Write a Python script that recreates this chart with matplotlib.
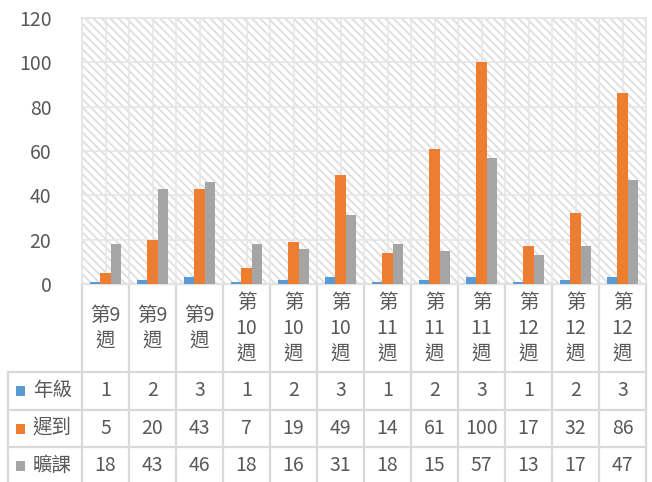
import numpy as np
import matplotlib.pyplot as plt
from matplotlib.patches import Rectangle
from matplotlib.transforms import blended_transform_factory

plt.rcParams['font.family'] = ['Noto Sans CJK TC', 'DejaVu Sans']
plt.rcParams['hatch.linewidth'] = 1.3

weeks = ['第9\n週', '第9\n週', '第9\n週',
         '第\n10\n週', '第\n10\n週', '第\n10\n週',
         '第\n11\n週', '第\n11\n週', '第\n11\n週',
         '第\n12\n週', '第\n12\n週', '第\n12\n週']
series_names = ['年級', '遲到', '曠課']
grade = [1, 2, 3, 1, 2, 3, 1, 2, 3, 1, 2, 3]
late = [5, 20, 43, 7, 19, 49, 14, 61, 100, 17, 32, 86]
absent = [18, 43, 46, 18, 16, 31, 18, 15, 57, 13, 17, 47]
colors = ['#5B9BD5', '#ED7D31', '#A5A5A5']

txt = '#595959'
line_c = '#d9d9d9'
fs = 14

fig = plt.figure(figsize=(6.52, 4.82), dpi=100)
ax = fig.add_axes([82/652, 1-284/482, 564/652, 266/482])

n = len(weeks)
x = np.arange(n)
w = 0.22
values = [grade, late, absent]

# patterned background
ax.add_patch(Rectangle((0, 0), 1, 1, transform=ax.transAxes, facecolor='white',
                       edgecolor='#dedede', hatch='\\\\\\\\', linewidth=0, zorder=0))
for yv in range(20, 121, 20):
    ax.axhline(yv, color='#e6e6e6', lw=1.2, zorder=1)
for xv in np.arange(-0.5, n, 0.5):
    ax.axvline(xv, color='#e6e6e6', lw=1.2, zorder=1)

for i, vals in enumerate(values):
    ax.bar(x + (i - 1) * w, vals, width=w, color=colors[i], zorder=3)

ax.set_xlim(-0.5, n - 0.5)
ax.set_ylim(0, 120)
ax.set_yticks(range(0, 121, 20))
ax.tick_params(axis='y', length=0, labelsize=fs, labelcolor=txt, pad=22)
ax.set_xticks([])
for s in ax.spines.values():
    s.set_color('#e4e4e4')
    s.set_linewidth(1.2)

# data table below the plot
tr = blended_transform_factory(ax.transData, ax.transAxes)
px = 1 / 266
rows = [0, -88*px, -126*px, -163*px, -200*px]
left = -0.5 - 74/47
kw = dict(color=line_c, lw=1.6, transform=tr, clip_on=False)

ax.plot([-0.5, n - 0.5], [rows[0], rows[0]], **kw)
for r in rows[1:4]:
    ax.plot([left, n - 0.5], [r, r], **kw)
for k in range(n + 1):
    ax.plot([k - 0.5, k - 0.5], [rows[0], rows[4]], **kw)
ax.plot([left, left], [rows[1], rows[4]], **kw)

for k in range(n):
    ax.text(k, (rows[0] + rows[1]) / 2, weeks[k], transform=tr, ha='center',
            va='center', fontsize=fs, color=txt, linespacing=1.3, clip_on=False)
for i, vals in enumerate(values):
    yc = (rows[i + 1] + rows[i + 2]) / 2
    ax.add_patch(Rectangle((left + 8/47, yc - 5*px), 9/47, 10*px, transform=tr,
                           facecolor=colors[i], clip_on=False))
    ax.text(left + 25/47, yc, series_names[i], transform=tr, ha='left', va='center',
            fontsize=fs, color=txt, clip_on=False)
    for k in range(n):
        ax.text(k, yc, str(vals[k]), transform=tr, ha='center', va='center',
                fontsize=fs, color=txt, clip_on=False)

fig.savefig('out.png', dpi=100)
